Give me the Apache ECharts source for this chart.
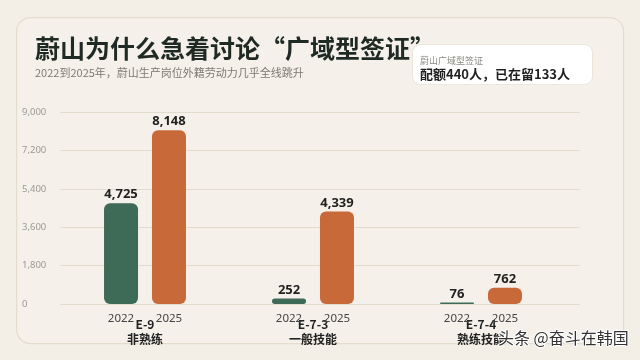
<!DOCTYPE html>
<html>
<head>
<meta charset="utf-8">
<script src="https://cdn.jsdelivr.net/npm/echarts@6/dist/echarts.min.js"></script>
<style>
html,body{margin:0;padding:0;background:#f3efe7;}
#chart{width:640px;height:360px;}
</style>
</head>
<body>
<div id="chart"></div>
<script>
var categories = ['E-9\n非熟练', 'E-7-3\n一般技能', 'E-7-4\n熟练技能'];
var years = ['2022', '2025'];
var values2022 = [4725, 252, 76];
var values2025 = [8148, 4339, 762];
var zeros = [0, 0, 0];
var yTicks = [0, 1800, 3600, 5400, 7200, 9000];

var FONT = '"Noto Sans", "Noto Sans CJK SC", sans-serif';
var CJK = '"Noto Sans CJK SC", "Noto Sans", sans-serif';
function fmt(v){ return String(v).replace(/\B(?=(\d{3})+(?!\d))/g, ','); }

var chart = echarts.init(document.getElementById('chart'), null, {renderer:'canvas'});

function yearSeries(stack, idx){
  return {
    type:'bar', stack: stack, xAxisIndex:1, yAxisIndex:1,
    data: zeros, barWidth:34, barGap:'41%', silent:true,
    itemStyle:{color:'transparent'},
    label:{show:true, position:'bottom', distance:9, formatter: years[idx],
      fontFamily:FONT, fontSize:11.5, color:'#444'}
  };
}
function valueSeries(stack, data, color){
  return {
    type:'bar', stack: stack, xAxisIndex:1, yAxisIndex:1,
    data: data, barWidth:34, barGap:'41%',
    itemStyle:{color:color, borderRadius:6},
    label:{show:true, position:'top', distance:2, formatter:function(p){return fmt(p.value);},
      fontFamily:FONT, fontSize:13, fontWeight:'bold', color:'#222'}
  };
}

var option = {
  backgroundColor:'#f3efe7',
  animation:false,
  graphic:[
    {type:'rect', left:16, top:17, shape:{width:607, height:326, r:14}, z:-10,
      style:{fill:'#f5f1ea', stroke:'#e3dccf', lineWidth:1.2}},
    {type:'text', left:35, top:36, z:5,
      style:{text:'蔚山为什么急着讨论“广域型签证”', fontFamily:CJK, fontSize:25, fontWeight:'bold', fill:'#1f2a24'}},
    {type:'text', left:35, top:67, z:5,
      style:{text:'2022到2025年，蔚山生产岗位外籍劳动力几乎全线跳升', fontFamily:CJK, fontSize:11, fill:'#7a7a72'}},
    {type:'rect', left:412, top:44, z:6, shape:{width:180, height:40, r:8},
      style:{fill:'#ffffff', stroke:'#ebe5da', lineWidth:1}},
    {type:'text', left:420, top:56, z:7,
      style:{text:'蔚山广域型签证', fontFamily:CJK, fontSize:9, fill:'#8a8a84'}},
    {type:'text', left:420, top:68, z:7,
      style:{text:'配额440人，已在留133人', fontFamily:CJK, fontSize:13, fontWeight:'bold', fill:'#1f1f1f'}},
    {type:'text', left:497, top:329, z:20,
      style:{text:'头条 @奋斗在韩国', fontFamily:CJK, fontSize:16, fill:'#333', stroke:'#ffffff', lineWidth:2}}
  ],
  grid:[
    {left:60, right:60, top:112, bottom:56},
    {left:61, right:75, top:112, bottom:56}
  ],
  xAxis:[
    {type:'value', gridIndex:0, min:0, max:1, show:false},
    {type:'category', gridIndex:1, data:categories,
      axisLine:{show:false}, axisTick:{show:false},
      axisLabel:{margin:13, fontFamily:CJK, fontSize:12, fontWeight:'bold', color:'#222', lineHeight:15}}
  ],
  yAxis:[
    {type:'value', gridIndex:0, min:yTicks[0], max:yTicks[yTicks.length-1], interval:yTicks[1]-yTicks[0],
      axisLine:{show:false}, axisTick:{show:false},
      axisLabel:{align:'left', margin:38, fontFamily:FONT, fontSize:9.5, color:'#9a9a92',
        formatter:function(v){return fmt(v);}},
      splitLine:{lineStyle:{color:'#e2dccf', width:1}}},
    {type:'value', gridIndex:1, min:yTicks[0], max:yTicks[yTicks.length-1], show:false}
  ],
  series:[
    yearSeries('a', 0),
    valueSeries('a', values2022, '#3e6b58'),
    yearSeries('b', 1),
    valueSeries('b', values2025, '#c8693a')
  ]
};
chart.setOption(option);
</script>
</body>
</html>
